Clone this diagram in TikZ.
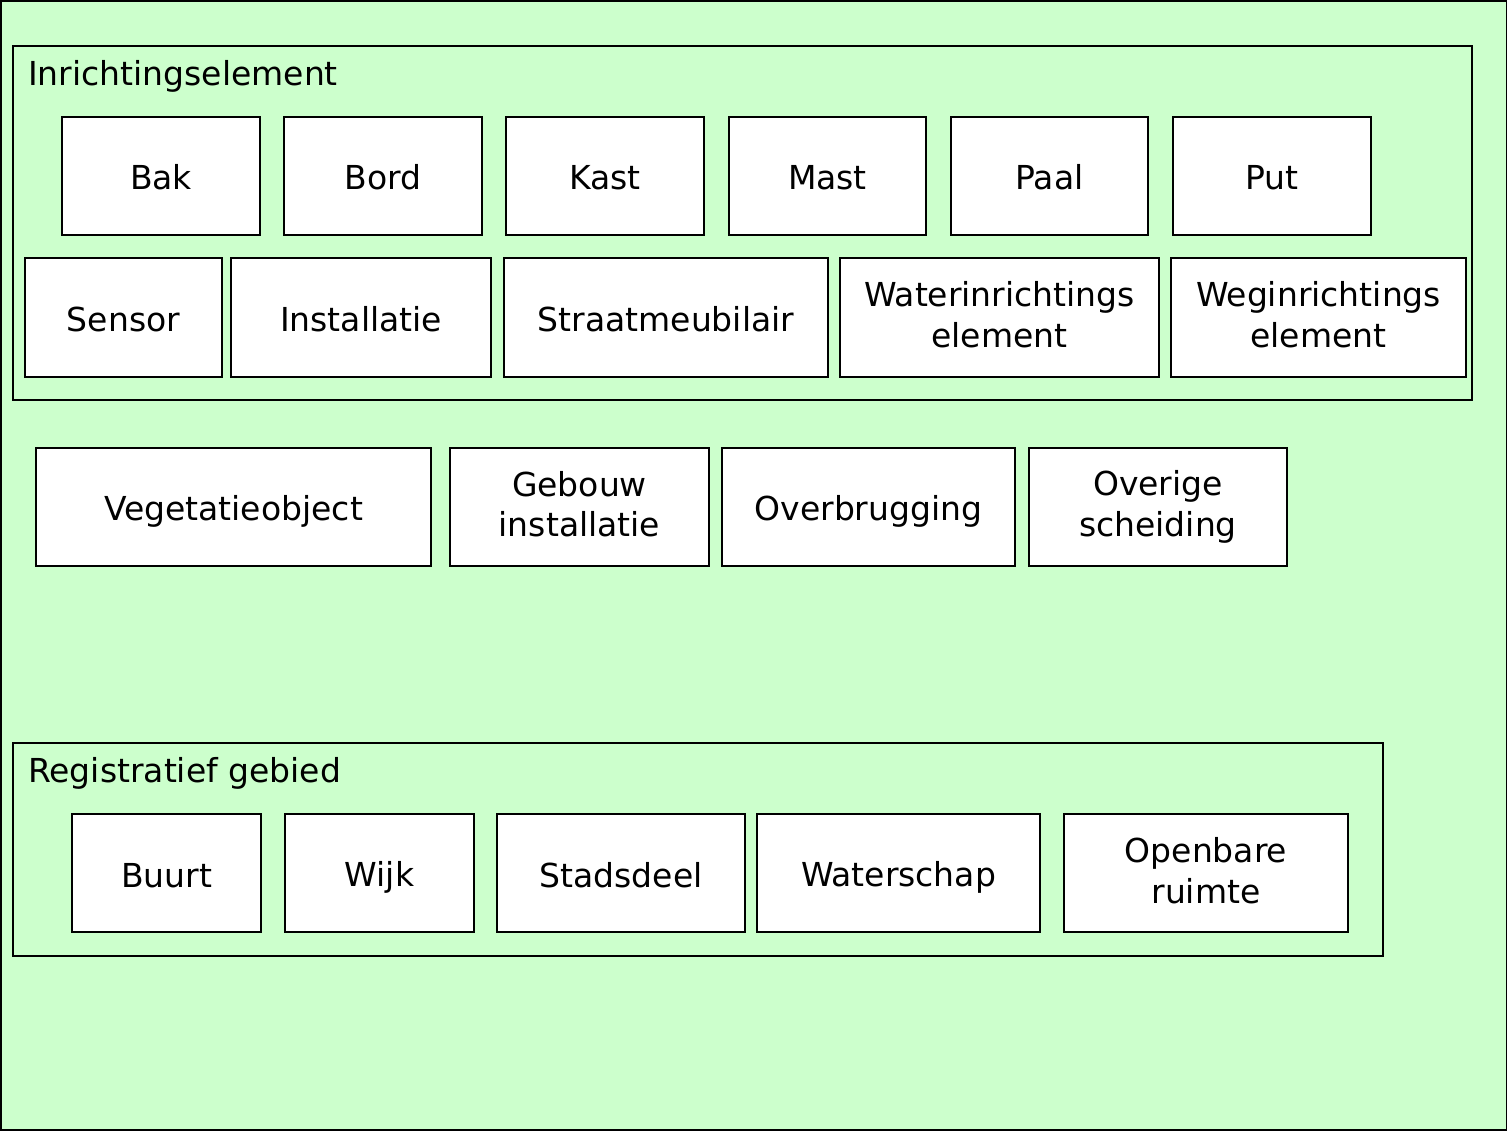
\documentclass[tikz,border=0pt]{standalone}
\usepackage{fontspec}
\setmainfont{DejaVu Sans}
\usetikzlibrary{positioning}
\definecolor{areagreen}{HTML}{CCFFCC}
\newcommand{\lstrut}{\rule[-5.5pt]{0pt}{39pt}}

\tikzset{
	elem/.style={draw, fill=white, line width=1.5pt, align=center, inner sep=0pt,
		font=\fontsize{33}{40}\selectfont, execute at begin node=\lstrut},
	group/.style={draw, fill=areagreen, line width=1.5pt},
	grouplabel/.style={anchor=west, inner sep=0pt,
		font=\fontsize{33}{40}\selectfont, execute at begin node=\lstrut}
}

\begin{document}
\begin{tikzpicture}[x=1pt, y=-1pt]
	\useasboundingbox (0,0) rectangle (1508,1131);
	% achtergrond
	\draw[group] (1,1) rectangle (1506.5,1130);

	% Inrichtingselement
	\draw[group] (13,46) rectangle (1472,400);
	\node[grouplabel] (inrlabel) at (28,72.5) {Inrichtingselement};
	\foreach \nm/\cx/\w/\txt in {bak/161/198/Bak, bord/383/198/Bord, kast/605/198/Kast,
		mast/827.5/197/Mast, paal/1049.5/197/Paal, put/1272/198/Put}
		\node[elem, minimum width=\w, minimum height=118] (\nm) at (\cx,176) {\txt};
	\foreach \nm/\cx/\w/\txt in {sensor/123.5/197/Sensor, installatie/361/260/Installatie,
		straat/666/324/Straatmeubilair, water/999.5/319/{Waterinrichtings\\\lstrut element},
		weg/1318.5/295/{Weginrichtings\\\lstrut element}}
		\node[elem, minimum width=\w, minimum height=119] (\nm) at (\cx,317.5) {\txt};

	% losse objecten
	\foreach \nm/\cx/\w/\txt in {vegetatie/233.5/395/Vegetatieobject, gebouw/579.5/259/{Gebouw\\\lstrut installatie},
		overbrugging/868.5/293/Overbrugging, overige/1158/258/{Overige\\\lstrut scheiding}}
		\node[elem, minimum width=\w, minimum height=118] (\nm) at (\cx,507) {\txt};

	% Registratief gebied
	\draw[group] (13,743) rectangle (1383,956);
	\node[grouplabel] (reglabel) at (28,769) {Registratief gebied};
	\foreach \nm/\cx/\w/\txt in {buurt/166.5/189/Buurt, wijk/379.5/189/Wijk, stadsdeel/621/248/Stadsdeel,
		waterschap/898.5/283/Waterschap, openbare/1206/284/{Openbare\\\lstrut ruimte}}
		\node[elem, minimum width=\w, minimum height=118] (\nm) at (\cx,873) {\txt};
\end{tikzpicture}
\end{document}
